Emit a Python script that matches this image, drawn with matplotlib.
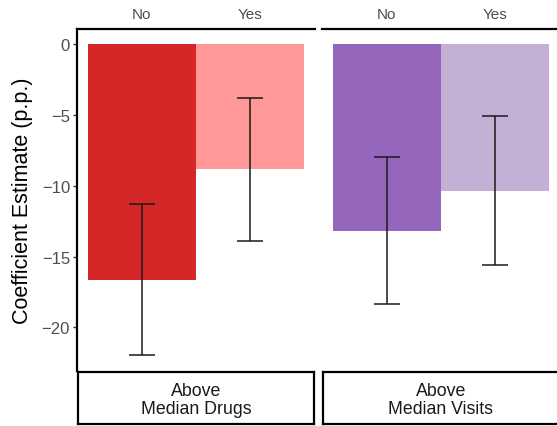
import matplotlib
matplotlib.use("Agg")
import matplotlib.pyplot as plt

plt.rcParams['font.family'] = ['Liberation Sans', 'DejaVu Sans']

# Data
facets = ["Above\nMedian Drugs", "Above\nMedian Visits"]
categories = ["No", "Yes"]
estimates = {
    "Above\nMedian Drugs": [-16.65, -8.82],
    "Above\nMedian Visits": [-13.19, -10.39],
}
ci_low = {
    "Above\nMedian Drugs": [-21.97, -13.87],
    "Above\nMedian Visits": [-18.38, -15.63],
}
ci_high = {
    "Above\nMedian Drugs": [-11.29, -3.80],
    "Above\nMedian Visits": [-7.98, -5.05],
}
colors = {
    "Above\nMedian Drugs": ["#d62728", "#ff9896"],
    "Above\nMedian Visits": ["#9467bd", "#c5b0d5"],
}
yticks = [0, -5, -10, -15, -20]

W, H = 557, 427
fig = plt.figure(figsize=(W / 100, H / 100), dpi=100)

panel_lefts = [77, 322]
panel_w = 238
top_px, bot_px = 30, 371.7
strip_top, strip_bot = 372.5, 425

ymin, ymax = -23.07, 1.08

for i, f in enumerate(facets):
    ax = fig.add_axes([panel_lefts[i] / W, (H - bot_px) / H, panel_w / W, (bot_px - top_px) / H])
    x = list(range(len(categories)))
    ax.bar(x, estimates[f], width=1.0, color=colors[f], edgecolor='none')
    yerr_low = [e - l for e, l in zip(estimates[f], ci_low[f])]
    yerr_high = [h - e for e, h in zip(estimates[f], ci_high[f])]
    ax.errorbar(x, estimates[f], yerr=[yerr_low, yerr_high], fmt='none',
                ecolor='#1a1a1a', elinewidth=1.1, capsize=9.7, capthick=1.1)
    ax.set_xlim(-0.6, 1.6)
    ax.set_ylim(ymin, ymax)
    ax.xaxis.tick_top()
    ax.set_xticks(x)
    ax.set_xticklabels(categories)
    ax.tick_params(axis='x', length=0, pad=6, labelsize=11, labelcolor='#4d4d4d')
    for s in ['right', 'bottom']:
        ax.spines[s].set_visible(False)
    ax.spines['top'].set_linewidth(1.6)
    ax.spines['top'].set_color('black')
    if i == 0:
        ax.spines['left'].set_linewidth(1.6)
        ax.spines['left'].set_color('black')
        ax.set_yticks(yticks)
        ax.set_yticklabels([f"{v}".replace('-', '\u2212') for v in yticks])
        ax.tick_params(axis='y', length=3, width=1.0, color='#333333', pad=2,
                       labelsize=12, labelcolor='#4d4d4d')
        ax.set_ylabel("Coefficient Estimate (p.p.)", fontsize=15.5, labelpad=6)
    else:
        ax.spines['left'].set_visible(False)
        ax.set_yticks([])

    sx = fig.add_axes([(panel_lefts[i] + 1) / W, (H - strip_bot) / H, (panel_w - 2) / W, (strip_bot - strip_top) / H])
    sx.set_xticks([])
    sx.set_yticks([])
    for s in sx.spines.values():
        s.set_linewidth(1.6)
        s.set_color('black')
    sx.text(0.5, 0.47, f, ha='center', va='center', fontsize=12.8, color='#1a1a1a',
            transform=sx.transAxes, linespacing=1.05)

fig.savefig("out.png", dpi=100)
